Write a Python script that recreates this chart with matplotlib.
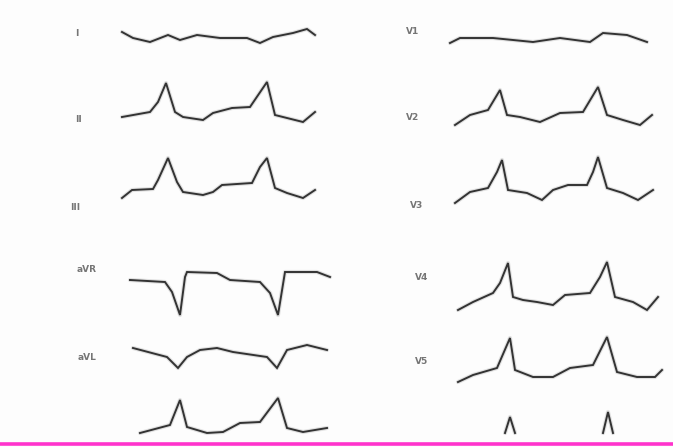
import numpy as np
import matplotlib
matplotlib.use("Agg")
import matplotlib.pyplot as plt

# ======================
# 导联数据 (时间点 / 振幅, 振幅向上为正)
# ======================
leads = ["I", "II", "III", "aVR", "aVL", "", "V1", "V2", "V3", "V4", "V5", ""]

t_I = [2, 13, 30, 48, 60, 77, 100, 127, 140, 153, 173, 187, 195]
a_I = [6, 0, -4, 3, -2, 3, 0, 0, -5, 1, 5, 9, 3]

t_II = [2, 30, 38, 46, 55, 63, 83, 93, 112, 130, 147, 155, 167, 183, 195]
a_II = [0, 5, 15, 34, 5, 0, -3, 4, 9, 10, 35, 2, -1, -5, 5]

t_III = [2, 12, 33, 38, 48, 57, 63, 83, 93, 102, 132, 140, 147, 155, 167, 183, 195]
a_III = [-5, 3, 4, 13, 35, 11, 1, -2, 1, 8, 10, 26, 35, 5, 0, -5, 3]

t_aVR = [10, 45, 52, 60, 65, 67, 97, 110, 140, 150, 158, 165, 180, 197, 210]
a_aVR = [0, -2, -12, -35, 3, 8, 7, 0, -2, -13, -35, 8, 8, 8, 3]

t_aVL = [13, 47, 58, 67, 80, 97, 113, 147, 157, 167, 187, 207]
a_aVL = [2, -7, -18, -7, 0, 2, -2, -7, -18, 0, 5, 0]

t_bot = [20, 50, 60, 67, 87, 103, 120, 140, 158, 167, 183, 207]
a_bot = [-3, 5, 30, 3, -3, -2, 7, 8, 32, 2, -2, 2]

t_V1 = [0, 10, 43, 83, 110, 140, 153, 177, 197]
a_V1 = [-3, 2, 2, -2, 2, -2, 7, 5, -2]

t_V2 = [5, 20, 38, 50, 57, 70, 90, 110, 133, 148, 157, 173, 190, 202]
a_V2 = [-7, 3, 8, 28, 3, 1, -4, 5, 6, 31, 3, -2, -7, 3]

t_V3 = [5, 20, 38, 47, 52, 58, 77, 92, 103, 118, 137, 143, 148, 157, 173, 188, 203]
a_V3 = [-10, 1, 5, 21, 33, 3, 0, -7, 3, 8, 8, 21, 36, 5, 0, -7, 3]

t_V4 = [8, 23, 43, 50, 58, 63, 73, 87, 103, 115, 140, 150, 157, 165, 183, 197, 208]
a_V4 = [-8, 0, 9, 19, 39, 5, 2, 0, -3, 7, 9, 25, 40, 5, 0, -8, 5]

t_V5 = [8, 23, 47, 60, 65, 83, 103, 120, 143, 157, 167, 187, 205, 212]
a_V5 = [-7, 0, 7, 37, 5, -2, -2, 7, 10, 38, 3, -2, -2, 5]

t_V6 = [55, 60, 65, np.nan, 153, 158, 163]
a_V6 = [0, 16, 0, np.nan, 0, 21, 0]

traces = [(t_I, a_I), (t_II, a_II), (t_III, a_III), (t_aVR, a_aVR), (t_aVL, a_aVL), (t_bot, a_bot),
          (t_V1, a_V1), (t_V2, a_V2), (t_V3, a_V3), (t_V4, a_V4), (t_V5, a_V5), (t_V6, a_V6)]

# ======================
# 版式
# ======================
col_x0 = [120, 450]
baselines = [38, 117, 193, 280, 350, 430, 40, 118, 193, 302, 375, 433]
label_pos = [(77, 33), (78, 120), (75, 208), (87, 270), (87, 357), None,
             (413, 32), (413, 118), (417, 205), (422, 277), (422, 362), None]

fig = plt.figure(figsize=(6.73, 4.47), dpi=100, facecolor='#fdfdfd')
ax = fig.add_axes([0, 0, 1, 1])
ax.set_xlim(0, 673)
ax.set_ylim(447, 0)
ax.axis('off')

for i, (t, a) in enumerate(traces):
    x0 = col_x0[0] if i < 6 else col_x0[1]
    x = x0 + np.array(t, dtype=float)
    y = baselines[i] - np.array(a, dtype=float)
    # 模糊效果
    ax.plot(x, y, color='#c4c4c4', lw=3.0, alpha=0.5, solid_capstyle='round', zorder=2)
    ax.plot(x, y, color='#333333', lw=1.4, solid_joinstyle='miter', zorder=3)
    if label_pos[i] is not None:
        ax.text(label_pos[i][0], label_pos[i][1], leads[i], ha='center', va='center',
                fontsize=6.5, fontweight='bold', color='#666666', alpha=0.9, zorder=3)

# 底部品红线
ax.axhline(444, color='#ff33cc', lw=2.6, zorder=4)

plt.savefig('out.png', dpi=100, facecolor=fig.get_facecolor())
plt.close()
